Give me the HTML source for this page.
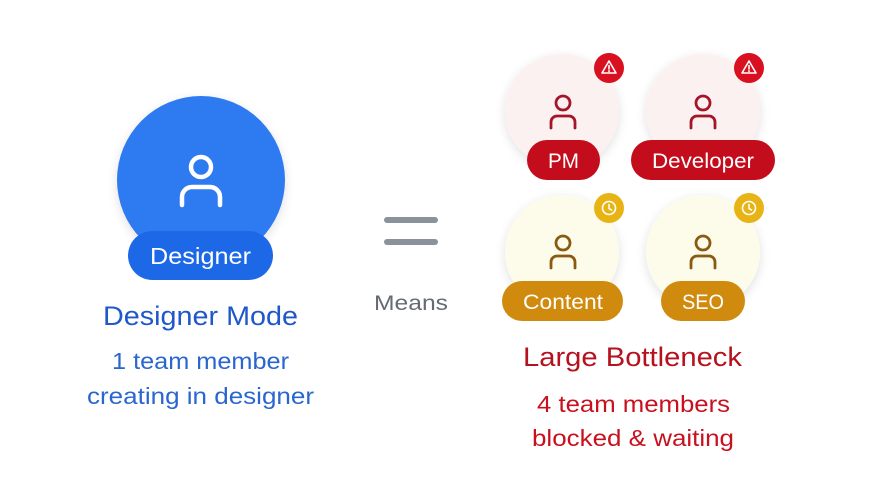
<!DOCTYPE html>
<html><head><meta charset="utf-8"><style>
html,body{margin:0;padding:0;background:#fff;}
svg{display:block;font-family:"Liberation Sans",Arial,sans-serif;}
</style></head><body>
<svg width="882" height="498" viewBox="0 0 882 498" xmlns="http://www.w3.org/2000/svg">
<defs>
<filter id="sh" x="-30%" y="-30%" width="160%" height="160%"><feDropShadow dx="0" dy="3" stdDeviation="5" flood-color="#000" flood-opacity="0.12"/></filter>
</defs>
<circle cx="201" cy="180" r="84" fill="#2f7af0" filter="url(#sh)"/>
<g fill="none" stroke="#fff" stroke-width="4.5" stroke-linecap="round">
<circle cx="201" cy="167" r="10"/>
<path d="M182 205 v-8 a10 10 0 0 1 10 -10 h18 a10 10 0 0 1 10 10 v8"/>
</g>
<rect x="128" y="231" width="145" height="49" rx="24.5" fill="#1d68e6"/>
<text x="150" y="264" font-size="23" fill="#fff" textLength="101" lengthAdjust="spacingAndGlyphs">Designer</text>
<text x="103" y="325" font-size="27" fill="#1f58c9" textLength="195" lengthAdjust="spacingAndGlyphs">Designer Mode</text>
<text x="112" y="369" font-size="23" fill="#2a66cf" textLength="177" lengthAdjust="spacingAndGlyphs">1 team member</text>
<text x="87" y="404" font-size="23" fill="#2a66cf" textLength="227" lengthAdjust="spacingAndGlyphs">creating in designer</text>
<g stroke="#8c929c" stroke-width="6" stroke-linecap="round">
<line x1="387" y1="220" x2="435" y2="220"/><line x1="387" y1="242" x2="435" y2="242"/>
</g>
<text x="374" y="310" font-size="21" fill="#666b73" textLength="74" lengthAdjust="spacingAndGlyphs">Means</text>
<g filter="url(#sh)">
<circle cx="562" cy="111" r="57" fill="#fcf1f1"/>
<circle cx="703" cy="111" r="57" fill="#fcf1f1"/>
<circle cx="562" cy="252" r="57" fill="#fdfbea"/>
<circle cx="703" cy="252" r="57" fill="#fdfbea"/>
</g>
<g fill="none" stroke-width="2.8" stroke-linecap="round">
<g stroke="#a5152a">
<circle cx="563" cy="103" r="7"/><path d="M551 128 v-6 a6 6 0 0 1 6 -6 h12 a6 6 0 0 1 6 6 v6"/>
<circle cx="703" cy="103" r="7"/><path d="M691 128 v-6 a6 6 0 0 1 6 -6 h12 a6 6 0 0 1 6 6 v6"/>
</g>
<g stroke="#8a5a12">
<circle cx="563" cy="243" r="7"/><path d="M551 268 v-6 a6 6 0 0 1 6 -6 h12 a6 6 0 0 1 6 6 v6"/>
<circle cx="703" cy="243" r="7"/><path d="M691 268 v-6 a6 6 0 0 1 6 -6 h12 a6 6 0 0 1 6 6 v6"/>
</g>
</g>
<circle cx="609" cy="68" r="15" fill="#d8101f"/>
<circle cx="749" cy="68" r="15" fill="#d8101f"/>
<g fill="none" stroke="#fff" stroke-width="1.6" stroke-linejoin="round">
<path d="M609 61 l7 12 h-14 z"/><path d="M749 61 l7 12 h-14 z"/>
<path d="M609 65.5 v3.5 M609 70.8 v0.6 M749 65.5 v3.5 M749 70.8 v0.6" stroke-linecap="round"/>
</g>
<circle cx="609" cy="208" r="15" fill="#e8b415"/>
<circle cx="749" cy="208" r="15" fill="#e8b415"/>
<g fill="none" stroke="#fff" stroke-width="1.6" stroke-linecap="round">
<circle cx="609" cy="208" r="6.5"/><path d="M609 204.5 v4 l2.5 1.5"/>
<circle cx="749" cy="208" r="6.5"/><path d="M749 204.5 v4 l2.5 1.5"/>
</g>
<rect x="527" y="140" width="73" height="40" rx="20" fill="#c40d1c"/>
<text x="548" y="168" font-size="21" fill="#fff" textLength="31" lengthAdjust="spacingAndGlyphs">PM</text>
<rect x="631" y="140" width="144" height="40" rx="20" fill="#c40d1c"/>
<text x="652" y="168" font-size="21" fill="#fff" textLength="102" lengthAdjust="spacingAndGlyphs">Developer</text>
<rect x="502" y="281" width="121" height="40" rx="20" fill="#d08b0e"/>
<text x="523" y="309" font-size="21" fill="#fff" textLength="80" lengthAdjust="spacingAndGlyphs">Content</text>
<rect x="661" y="281" width="84" height="40" rx="20" fill="#d08b0e"/>
<text x="682" y="309" font-size="21" fill="#fff" textLength="42" lengthAdjust="spacingAndGlyphs">SEO</text>
<text x="523" y="366" font-size="27" fill="#b5111e" textLength="219" lengthAdjust="spacingAndGlyphs">Large Bottleneck</text>
<text x="537" y="412" font-size="23" fill="#c8101f" textLength="193" lengthAdjust="spacingAndGlyphs">4 team members</text>
<text x="532" y="446" font-size="23" fill="#c8101f" textLength="202" lengthAdjust="spacingAndGlyphs">blocked &amp; waiting</text>
</svg>
</body></html>
